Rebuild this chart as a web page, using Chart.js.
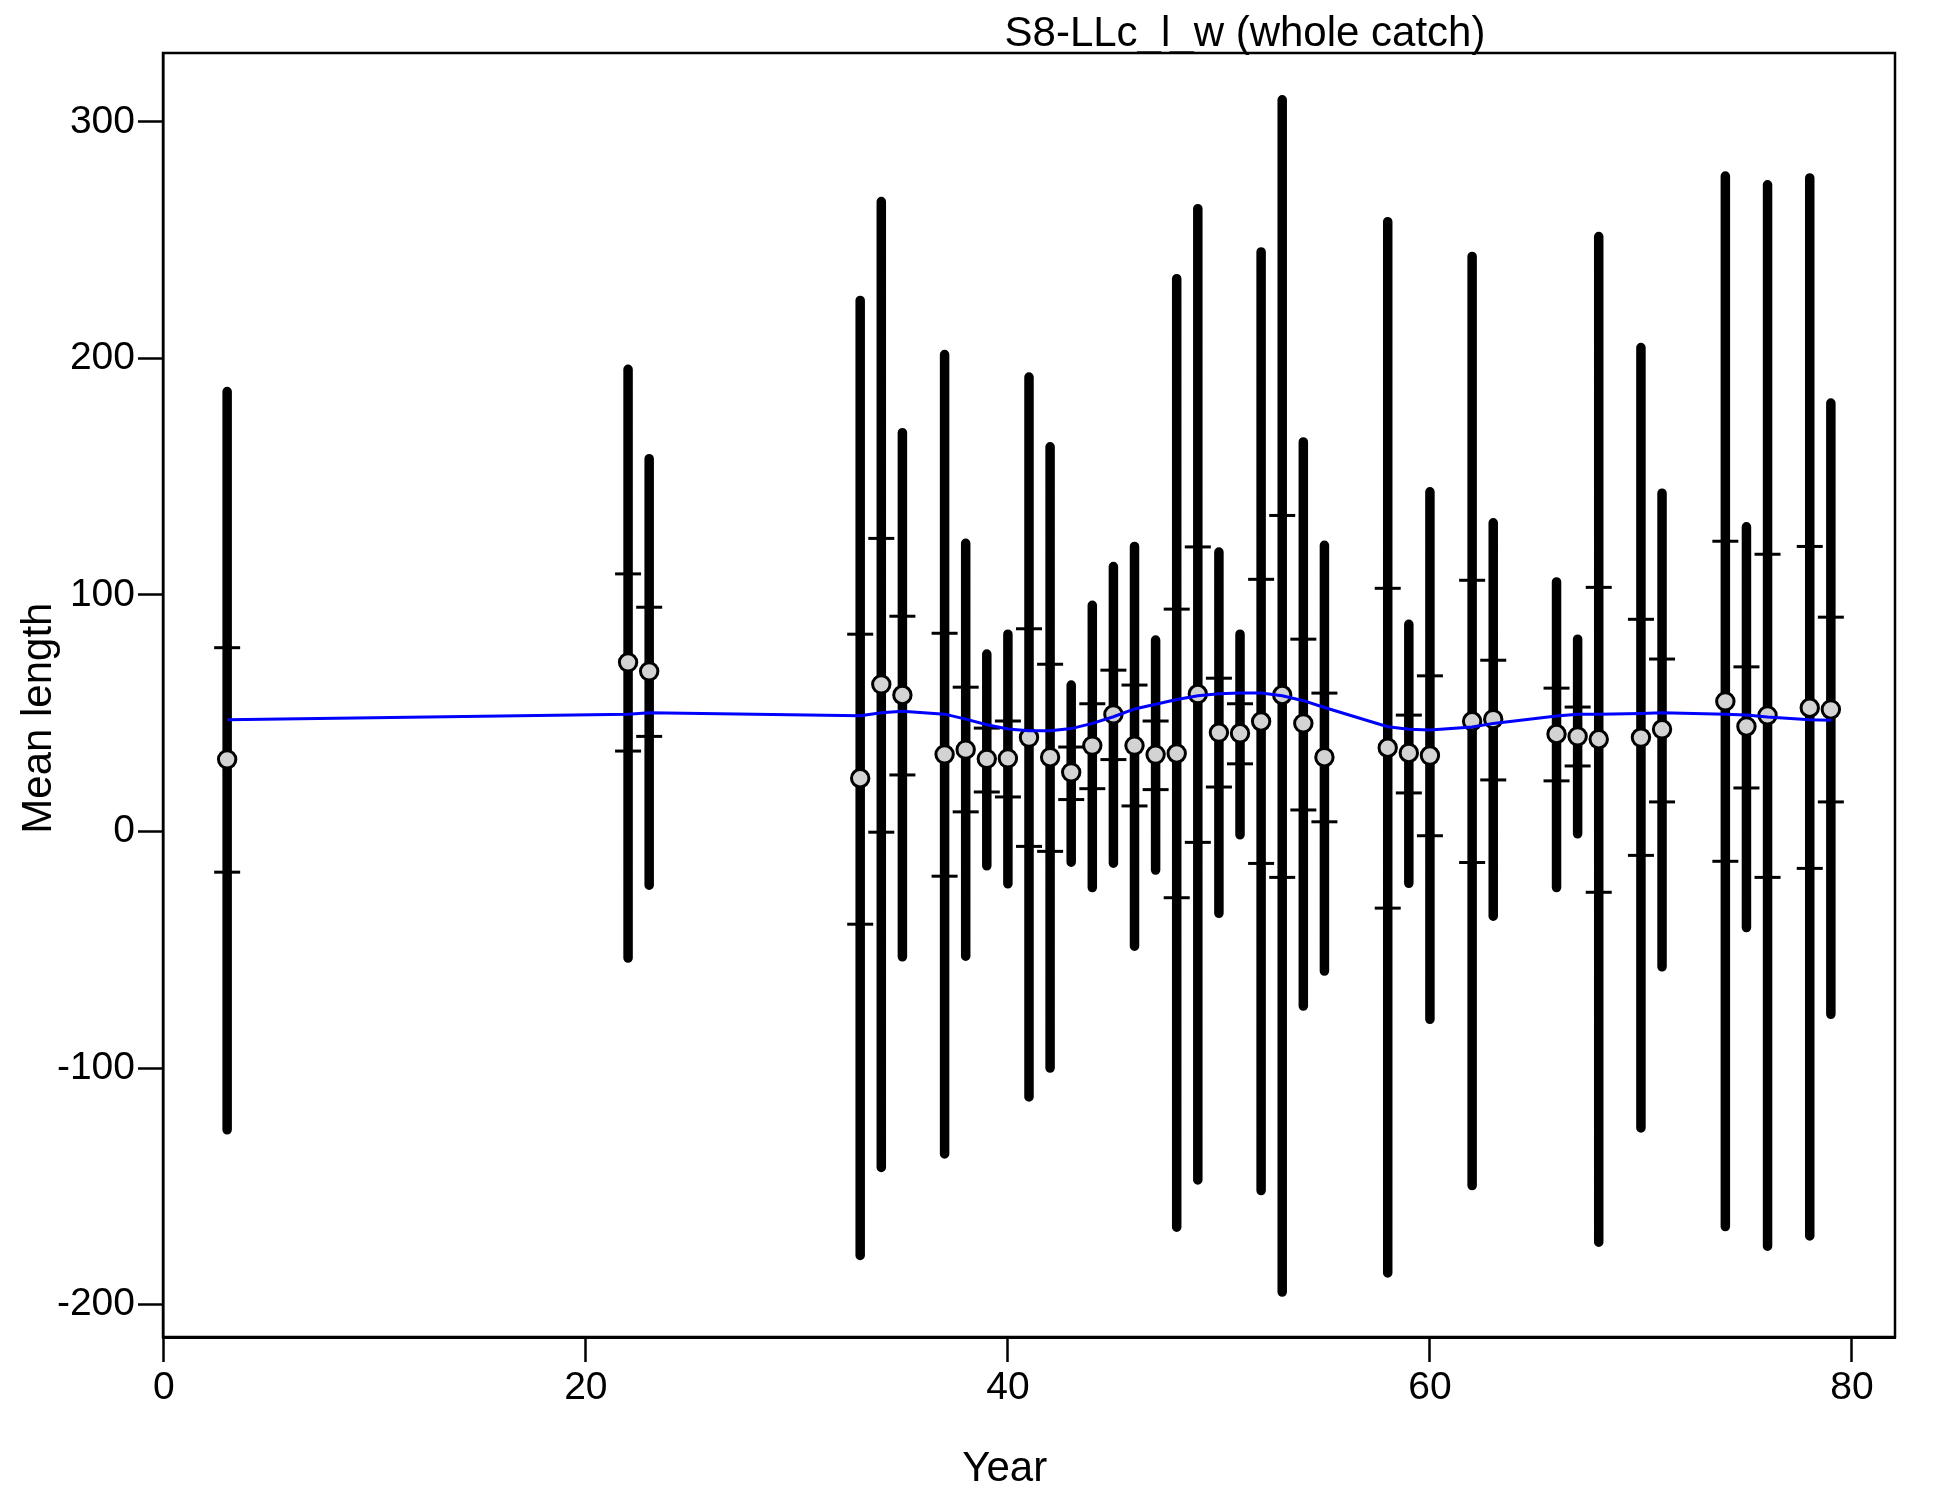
<!DOCTYPE html>
<html lang="en">
<head>
  <meta charset="UTF-8" />
  <title>S8-LLc_l_w (whole catch)</title>
  <script src="https://cdn.jsdelivr.net/npm/chart.js"></script>
  <style>
    html, body { margin: 0; padding: 0; background: #fff; }
    #wrap { width: 1950px; height: 1500px; }
  </style>
</head>
<body>
  <div id="wrap"><canvas id="grafico" width="1950" height="1500"></canvas></div>

  <script>
    // valores
    const anos     = [3, 22, 23, 33, 34, 35, 37, 38, 39, 40, 41, 42, 43, 44, 45, 46, 47, 48, 49, 50, 51, 52, 53, 54, 55, 58, 59, 60, 62, 63, 66, 67, 68, 70, 71, 74, 75, 76, 78, 79];
    const media    = [30.5, 71.5, 67.7, 22.5, 62.2, 57.7, 32.6, 34.6, 30.7, 30.9, 39.7, 31.4, 25, 36.3, 49.5, 36.3, 32.5, 33, 58.1, 41.8, 41.5, 46.5, 57.7, 45.7, 31.4, 35.4, 33.2, 32.1, 46.6, 47.5, 41.2, 40.2, 39, 39.7, 43.2, 55, 44.4, 49.1, 52.3, 51.6];
    const internoSup = [77.7, 108.9, 94.8, 83.4, 123.9, 91, 83.8, 61, 43.7, 46.7, 85.7, 70.7, 35.7, 54, 68.2, 61.9, 46.7, 94, 120.3, 64.8, 54, 106.6, 133.6, 81.3, 58.5, 102.8, 49.2, 65.8, 106.2, 72.4, 60.6, 52.6, 103.2, 89.7, 72.9, 122.7, 69.6, 117.2, 120.5, 90.6];
    const internoInf = [-17.2, 34, 40.2, -39.2, -0.3, 23.9, -18.9, 8.3, 16.7, 14.6, -6.3, -8.4, 13.5, 18.1, 30.4, 10.8, 17.7, -28, -4.6, 18.8, 28.6, -13.5, -19.4, 9.1, 4.1, -32.4, 16.3, -1.8, -13.1, 21.8, 21.4, 27.7, -25.7, -10.1, 12.5, -12.6, 18.4, -19.4, -15.6, 12.5];
    const externoSup = [186, 195.4, 157.6, 224.5, 266.3, 168.6, 201.6, 121.8, 75, 83.4, 192.1, 162.6, 61.9, 95.6, 112, 120.5, 80.9, 233.7, 263.3, 118.1, 83.4, 245, 309.3, 164.7, 121, 257.8, 87.6, 143.6, 243.1, 130.5, 105.5, 81.3, 251.5, 204.6, 143, 277.1, 128.8, 273.4, 276.3, 181.1];
    const externoInf = [-126.1, -53.5, -22.7, -179.2, -142, -53, -136.3, -52.7, -14.5, -22.1, -112.2, -100, -13, -23.7, -13.4, -48.5, -16.3, -167.3, -147.3, -34.6, -1.4, -151.8, -194.7, -73.8, -59, -186.6, -21.9, -79.4, -149.7, -35.8, -23.7, -1, -173.6, -125.3, -57.2, -167, -40.6, -175.3, -171, -77.3];
    const ajuste   = [47.2, 49.6, 50.2, 48.9, 50.2, 50.8, 49.6, 47.5, 45.1, 43.3, 42.6, 42.6, 43.5, 45.7, 48.5, 51.8, 53.8, 55.8, 57.4, 58.2, 58.5, 58.5, 57.4, 55.3, 52.4, 44.3, 43.2, 42.9, 44.2, 45.7, 48.8, 49.6, 49.6, 49.9, 50.2, 49.6, 49.2, 48.4, 47.2, 47];

    const ticksX = [0, 20, 40, 60, 80];
    const ticksY = [-200, -100, 0, 100, 200, 300];

    const titulo = 'S8-LLc_l_w (whole catch)';
    const tituloX = 'Year';
    const tituloY = 'Mean length';
    const fonte = '"Liberation Sans", Arial, sans-serif';

    // segmentos verticais separados por null
    const barrasExternas = [];
    anos.forEach((a, i) => {
      barrasExternas.push({ x: a, y: externoInf[i] }, { x: a, y: externoSup[i] }, { x: a, y: null });
    });
    const tracos = anos.flatMap((a, i) => [{ x: a, y: internoSup[i] }, { x: a, y: internoInf[i] }]);

    // moldura + textos (estilo R)
    const moldura = {
      id: 'moldura',
      afterDraw(chart) {
        const { ctx, chartArea: ca } = chart;
        ctx.save();
        ctx.strokeStyle = '#000';
        ctx.lineWidth = 2.5;
        ctx.strokeRect(ca.left, ca.top, ca.right - ca.left, ca.bottom - ca.top);

        ctx.fillStyle = '#000';
        ctx.textAlign = 'center';
        ctx.textBaseline = 'alphabetic';
        ctx.font = '42px ' + fonte;
        ctx.fillText(titulo, ca.left + 0.6247 * (ca.right - ca.left), 46);
        ctx.fillText(tituloX, ca.left + 0.486 * (ca.right - ca.left), 1481);

        ctx.translate(51, ca.top + 0.518 * (ca.bottom - ca.top));
        ctx.rotate(-Math.PI / 2);
        ctx.fillText(tituloY, 0, 0);
        ctx.restore();
      }
    };

    new Chart(document.getElementById('grafico'), {
      data: {
        datasets: [
          {
            type: 'line', data: anos.map((a, i) => ({ x: a, y: ajuste[i] })),
            borderColor: '#0000ff', borderWidth: 3, pointRadius: 0, tension: 0, fill: false
          },
          {
            type: 'scatter', data: anos.map((a, i) => ({ x: a, y: media[i] })),
            pointRadius: 8.7, pointBackgroundColor: '#d3d3d3', pointBorderColor: '#000', pointBorderWidth: 3
          },
          {
            type: 'scatter', data: tracos,
            pointStyle: 'line', pointRadius: 13, pointBorderColor: '#000', pointBorderWidth: 3
          },
          {
            type: 'line', data: barrasExternas,
            borderColor: '#000', borderWidth: 9.5, borderCapStyle: 'round',
            pointRadius: 0, spanGaps: false, fill: false
          }
        ]
      },
      options: {
        responsive: false,
        animation: false,
        events: [],
        layout: { padding: { top: 53, right: 55, left: 0, bottom: 0 } },
        plugins: { legend: { display: false }, tooltip: { enabled: false }, title: { display: false } },
        scales: {
          x: {
            type: 'linear', min: -0.04, max: 82.04, offset: false,
            afterBuildTicks: s => { s.ticks = ticksX.map(v => ({ value: v })); },
            afterFit: s => { s.height = 163; },
            grid: { drawOnChartArea: false, drawTicks: true, tickLength: 25, tickWidth: 2.5, tickColor: '#000' },
            border: { display: true, color: '#000', width: 3 },
            ticks: { color: '#000', padding: 3, maxRotation: 0, font: { family: fonte, size: 39 } }
          },
          y: {
            type: 'linear', min: -213.7, max: 329.1,
            afterBuildTicks: s => { s.ticks = ticksY.map(v => ({ value: v })); },
            afterFit: s => { s.width = 163; },
            grid: { drawOnChartArea: false, drawTicks: true, tickLength: 25, tickWidth: 2.5, tickColor: '#000' },
            border: { display: true, color: '#000', width: 2.5 },
            ticks: { color: '#000', padding: 3, font: { family: fonte, size: 39 } }
          }
        }
      },
      plugins: [moldura]
    });
  </script>
</body>
</html>
